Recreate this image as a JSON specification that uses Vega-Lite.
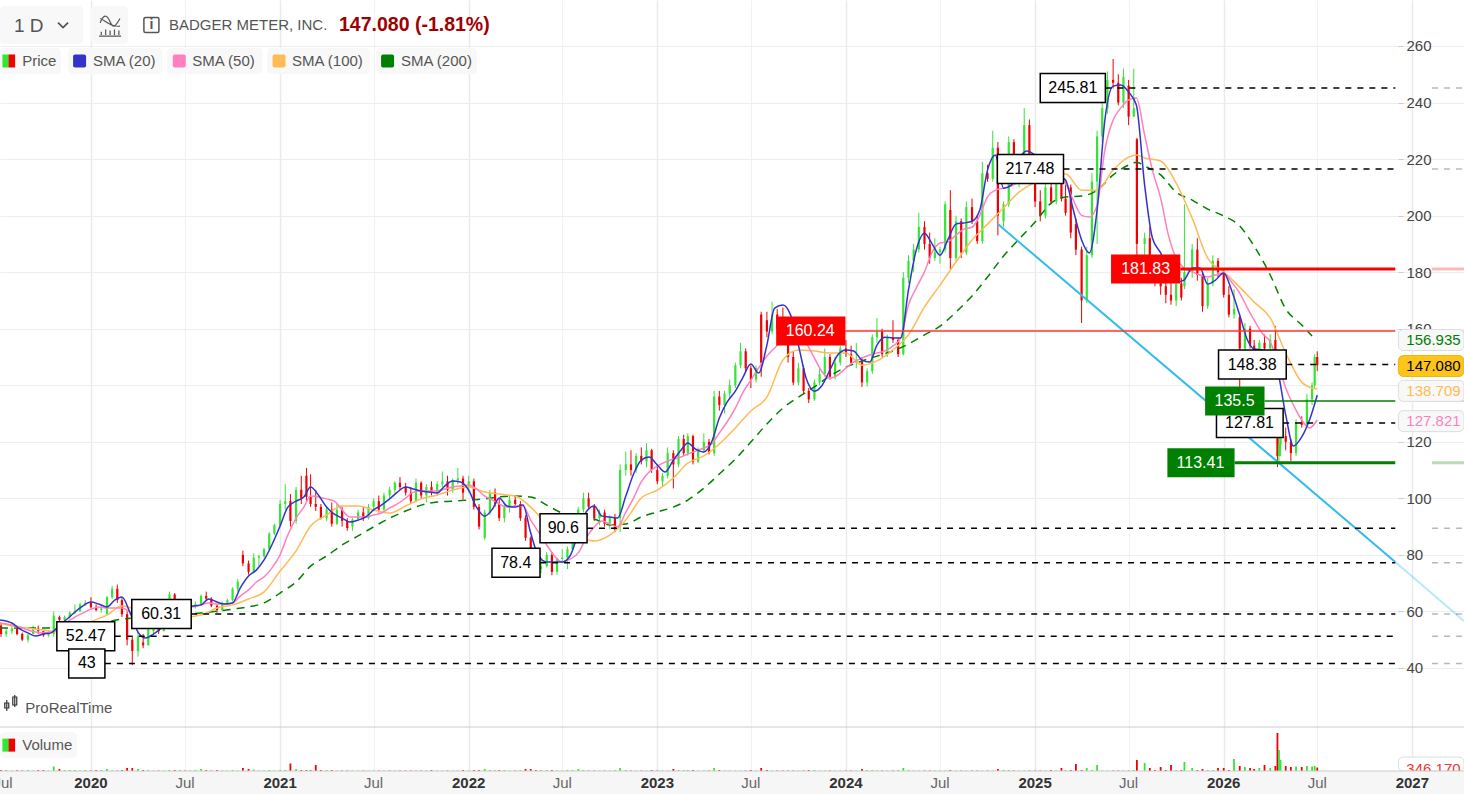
{
"$schema":"https://vega.github.io/schema/vega-lite/v6.json",
"width":1464,"height":794,"padding":0,"autosize":{"type":"none"},"background":"white",
"config":{"font":"Liberation Sans","view":{"stroke":null}},
"datasets":{
"candles":[
{"date":"2019-07-11","o":55,"h":56,"l":51,"c":52,"v":100},
{"date":"2019-07-21","o":52,"h":54,"l":51,"c":53,"v":100},
{"date":"2019-08-01","o":53,"h":55,"l":52,"c":54,"v":50},
{"date":"2019-08-11","o":54,"h":54,"l":51.5,"c":52,"v":80},
{"date":"2019-08-21","o":52,"h":52.5,"l":49.5,"c":50,"v":50},
{"date":"2019-09-01","o":50,"h":52,"l":49,"c":51.5,"v":100},
{"date":"2019-09-11","o":52,"h":55,"l":52,"c":54.5,"v":50},
{"date":"2019-09-21","o":54,"h":55,"l":52,"c":53,"v":100},
{"date":"2019-10-01","o":53,"h":53,"l":51,"c":51.5,"v":100},
{"date":"2019-10-11","o":51.5,"h":53,"l":51,"c":52.5,"v":50},
{"date":"2019-10-21","o":52,"h":60,"l":51,"c":58.5,"v":450},
{"date":"2019-11-01","o":58,"h":58.5,"l":56.5,"c":57,"v":200},
{"date":"2019-11-11","o":57,"h":58.5,"l":56.5,"c":58,"v":100},
{"date":"2019-11-21","o":58,"h":60,"l":57.5,"c":59.5,"v":100},
{"date":"2019-12-01","o":59.5,"h":62.5,"l":59,"c":60,"v":100},
{"date":"2019-12-11","o":60,"h":63,"l":60,"c":62.5,"v":50},
{"date":"2019-12-21","o":62.5,"h":64,"l":62,"c":63,"v":100},
{"date":"2020-01-01","o":63,"h":65,"l":61,"c":61.5,"v":50},
{"date":"2020-01-11","o":61.5,"h":62.5,"l":60,"c":60.5,"v":100},
{"date":"2020-01-21","o":60.5,"h":62,"l":59.5,"c":61,"v":100},
{"date":"2020-02-01","o":59,"h":65.5,"l":58.7,"c":65,"v":200},
{"date":"2020-02-11","o":65,"h":69,"l":64.5,"c":68,"v":50},
{"date":"2020-02-21","o":68,"h":69.5,"l":63,"c":64,"v":50},
{"date":"2020-03-01","o":64,"h":65,"l":58,"c":59,"v":100},
{"date":"2020-03-11","o":59,"h":60,"l":48,"c":50,"v":300},
{"date":"2020-03-21","o":50,"h":51,"l":41,"c":46,"v":300},
{"date":"2020-04-01","o":46,"h":53,"l":44,"c":51,"v":200},
{"date":"2020-04-11","o":49,"h":52,"l":47,"c":48,"v":100},
{"date":"2020-04-21","o":48,"h":55,"l":48,"c":54,"v":100},
{"date":"2020-05-01","o":53,"h":56,"l":52,"c":55,"v":50},
{"date":"2020-05-11","o":55,"h":58,"l":52,"c":53,"v":50},
{"date":"2020-05-21","o":53,"h":60,"l":53,"c":59,"v":50},
{"date":"2020-06-01","o":59,"h":67,"l":59,"c":66,"v":100},
{"date":"2020-06-11","o":66,"h":66.5,"l":62,"c":63,"v":100},
{"date":"2020-06-21","o":63,"h":64.5,"l":61.5,"c":63.5,"v":100},
{"date":"2020-07-01","o":63,"h":64,"l":60.5,"c":61,"v":50},
{"date":"2020-07-11","o":61,"h":63,"l":60.5,"c":62,"v":50},
{"date":"2020-07-21","o":62,"h":63.5,"l":61,"c":62.5,"v":100},
{"date":"2020-08-01","o":62.5,"h":66,"l":62,"c":65.5,"v":200},
{"date":"2020-08-11","o":65.5,"h":67,"l":64,"c":64.5,"v":100},
{"date":"2020-08-21","o":64.5,"h":65,"l":61.5,"c":62,"v":50},
{"date":"2020-09-01","o":62,"h":62.5,"l":59.5,"c":60.5,"v":100},
{"date":"2020-09-11","o":60.5,"h":63.5,"l":60,"c":63,"v":50},
{"date":"2020-09-21","o":63,"h":64.5,"l":62.5,"c":64,"v":50},
{"date":"2020-10-01","o":64,"h":68.5,"l":63.5,"c":68,"v":100},
{"date":"2020-10-11","o":68,"h":71.5,"l":67,"c":70.5,"v":50},
{"date":"2020-10-21","o":80,"h":81.5,"l":76,"c":77,"v":300},
{"date":"2020-11-01","o":77,"h":78,"l":73,"c":74,"v":200},
{"date":"2020-11-11","o":74,"h":80.5,"l":73.5,"c":79,"v":150},
{"date":"2020-11-21","o":79,"h":80,"l":76,"c":79.5,"v":50},
{"date":"2020-12-01","o":79.5,"h":82.5,"l":79,"c":82,"v":50},
{"date":"2020-12-11","o":82,"h":88,"l":81.5,"c":87.5,"v":100},
{"date":"2020-12-21","o":87.5,"h":91,"l":87,"c":90.5,"v":50},
{"date":"2021-01-01","o":90.5,"h":99.5,"l":90,"c":98,"v":100},
{"date":"2021-01-11","o":98,"h":105,"l":96,"c":99,"v":100},
{"date":"2021-01-21","o":99,"h":101.5,"l":90,"c":92,"v":750},
{"date":"2021-02-01","o":92,"h":104,"l":91,"c":103,"v":200},
{"date":"2021-02-11","o":103,"h":108,"l":98,"c":100,"v":100},
{"date":"2021-02-21","o":108,"h":110.7,"l":99,"c":100.5,"v":100},
{"date":"2021-03-01","o":100.5,"h":108.5,"l":97,"c":98,"v":100},
{"date":"2021-03-11","o":98,"h":103,"l":95.5,"c":97,"v":600},
{"date":"2021-03-21","o":97,"h":98,"l":92.5,"c":93,"v":100},
{"date":"2021-04-01","o":93,"h":97,"l":92,"c":96,"v":100},
{"date":"2021-04-11","o":96,"h":98.5,"l":90,"c":91,"v":100},
{"date":"2021-04-21","o":91,"h":98,"l":90.5,"c":96,"v":50},
{"date":"2021-05-01","o":96,"h":97,"l":90,"c":92,"v":50},
{"date":"2021-05-11","o":92,"h":93,"l":88.5,"c":89.5,"v":50},
{"date":"2021-05-21","o":90,"h":93,"l":88.5,"c":92.5,"v":50},
{"date":"2021-06-01","o":92.5,"h":96,"l":92,"c":95,"v":50},
{"date":"2021-06-11","o":95,"h":97,"l":92,"c":93,"v":50},
{"date":"2021-06-21","o":93,"h":98,"l":92.5,"c":97,"v":50},
{"date":"2021-07-01","o":97,"h":100,"l":96,"c":99,"v":50},
{"date":"2021-07-11","o":99,"h":101,"l":95,"c":96,"v":50},
{"date":"2021-07-21","o":96,"h":102,"l":95.5,"c":101,"v":50},
{"date":"2021-08-01","o":101,"h":104,"l":100,"c":103,"v":100},
{"date":"2021-08-11","o":103,"h":106,"l":102,"c":105.5,"v":50},
{"date":"2021-08-21","o":105.5,"h":107.5,"l":103,"c":104,"v":50},
{"date":"2021-09-01","o":104,"h":105.5,"l":101,"c":102,"v":50},
{"date":"2021-09-11","o":102,"h":104,"l":98,"c":99,"v":50},
{"date":"2021-09-21","o":99,"h":107,"l":98.5,"c":105.5,"v":50},
{"date":"2021-10-01","o":105.5,"h":106,"l":100,"c":101,"v":50},
{"date":"2021-10-11","o":101,"h":105,"l":98.5,"c":104,"v":50},
{"date":"2021-10-21","o":104,"h":106,"l":101,"c":102,"v":100},
{"date":"2021-11-01","o":102,"h":106,"l":101,"c":105,"v":50},
{"date":"2021-11-11","o":105,"h":109.5,"l":104,"c":106,"v":50},
{"date":"2021-11-21","o":106,"h":108,"l":101,"c":103,"v":50},
{"date":"2021-12-01","o":103,"h":107,"l":102,"c":106.5,"v":50},
{"date":"2021-12-11","o":106.5,"h":110.7,"l":105,"c":107,"v":50},
{"date":"2021-12-21","o":107,"h":108,"l":99.5,"c":102,"v":100},
{"date":"2022-01-01","o":104,"h":108,"l":102,"c":106,"v":50},
{"date":"2022-01-11","o":106,"h":107,"l":96,"c":97,"v":100},
{"date":"2022-01-21","o":97,"h":98,"l":89,"c":90,"v":100},
{"date":"2022-02-01","o":86,"h":96,"l":85.3,"c":95,"v":200},
{"date":"2022-02-11","o":95,"h":103,"l":94,"c":102,"v":100},
{"date":"2022-02-21","o":102,"h":103.5,"l":97,"c":98,"v":50},
{"date":"2022-03-01","o":98,"h":100,"l":92,"c":93,"v":100},
{"date":"2022-03-11","o":93,"h":98,"l":91.5,"c":97,"v":100},
{"date":"2022-03-21","o":97,"h":101,"l":95,"c":99.5,"v":50},
{"date":"2022-04-01","o":99.5,"h":101,"l":97,"c":98,"v":50},
{"date":"2022-04-11","o":98,"h":99,"l":92,"c":93,"v":50},
{"date":"2022-04-21","o":93,"h":94,"l":85,"c":86,"v":200},
{"date":"2022-05-01","o":86,"h":86.5,"l":78,"c":79,"v":200},
{"date":"2022-05-11","o":79,"h":81,"l":74,"c":75,"v":100},
{"date":"2022-05-21","o":75,"h":79,"l":73.5,"c":76,"v":100},
{"date":"2022-06-01","o":76,"h":81,"l":75.5,"c":80,"v":100},
{"date":"2022-06-11","o":80,"h":81,"l":72.8,"c":74,"v":100},
{"date":"2022-06-21","o":74,"h":79,"l":73,"c":78.5,"v":50},
{"date":"2022-07-01","o":78.5,"h":82,"l":77,"c":79,"v":50},
{"date":"2022-07-11","o":79,"h":83,"l":75,"c":82,"v":100},
{"date":"2022-07-21","o":82,"h":89,"l":81.5,"c":88,"v":100},
{"date":"2022-08-01","o":88,"h":97,"l":87.5,"c":96,"v":200},
{"date":"2022-08-11","o":96,"h":102,"l":95,"c":100,"v":100},
{"date":"2022-08-21","o":100,"h":102,"l":96,"c":97,"v":50},
{"date":"2022-09-01","o":97,"h":98,"l":92,"c":93,"v":50},
{"date":"2022-09-11","o":93,"h":96,"l":90.5,"c":95,"v":50},
{"date":"2022-09-21","o":95,"h":96,"l":90,"c":91,"v":50},
{"date":"2022-10-01","o":91,"h":94,"l":89,"c":93,"v":50},
{"date":"2022-10-11","o":93,"h":94.5,"l":88,"c":89,"v":50},
{"date":"2022-10-21","o":93,"h":112,"l":88,"c":110,"v":300},
{"date":"2022-11-01","o":110,"h":116.5,"l":108,"c":112,"v":100},
{"date":"2022-11-11","o":112,"h":117,"l":108,"c":110,"v":50},
{"date":"2022-11-21","o":110,"h":116,"l":109,"c":115,"v":50},
{"date":"2022-12-01","o":115,"h":118,"l":112,"c":113,"v":50},
{"date":"2022-12-11","o":113,"h":119.5,"l":111,"c":117,"v":50},
{"date":"2022-12-21","o":117,"h":117.5,"l":109,"c":110,"v":100},
{"date":"2023-01-01","o":110,"h":112,"l":105,"c":106,"v":50},
{"date":"2023-01-11","o":106,"h":109,"l":104,"c":108,"v":50},
{"date":"2023-01-21","o":108,"h":118,"l":107,"c":116,"v":50},
{"date":"2023-02-01","o":116,"h":117,"l":103.5,"c":112,"v":200},
{"date":"2023-02-11","o":112,"h":122,"l":111,"c":121,"v":100},
{"date":"2023-02-21","o":121,"h":122.5,"l":115,"c":116,"v":50},
{"date":"2023-03-01","o":116,"h":123,"l":115,"c":122,"v":100},
{"date":"2023-03-11","o":122,"h":122.5,"l":112,"c":113,"v":100},
{"date":"2023-03-21","o":113,"h":118,"l":112.5,"c":117,"v":50},
{"date":"2023-04-01","o":117,"h":123,"l":116,"c":120,"v":50},
{"date":"2023-04-11","o":120,"h":121,"l":115.5,"c":116,"v":50},
{"date":"2023-04-21","o":116,"h":138,"l":115,"c":136,"v":300},
{"date":"2023-05-01","o":136,"h":138,"l":131,"c":133,"v":100},
{"date":"2023-05-11","o":133,"h":138,"l":130,"c":137,"v":50},
{"date":"2023-05-21","o":137,"h":142,"l":135,"c":140,"v":50},
{"date":"2023-06-01","o":140,"h":148,"l":139,"c":147,"v":50},
{"date":"2023-06-11","o":147,"h":155,"l":146,"c":152,"v":50},
{"date":"2023-06-21","o":152,"h":153,"l":145,"c":146,"v":50},
{"date":"2023-07-01","o":146,"h":147,"l":139,"c":142,"v":100},
{"date":"2023-07-11","o":142,"h":147,"l":141,"c":146,"v":50},
{"date":"2023-07-21","o":165,"h":166,"l":143,"c":148,"v":300},
{"date":"2023-08-01","o":163,"h":166,"l":157,"c":159,"v":100},
{"date":"2023-08-11","o":159,"h":169.5,"l":158,"c":165,"v":50},
{"date":"2023-08-21","o":165,"h":167,"l":158,"c":160,"v":50},
{"date":"2023-09-01","o":160,"h":167.5,"l":155,"c":157,"v":50},
{"date":"2023-09-11","o":157,"h":159,"l":148,"c":150,"v":50},
{"date":"2023-09-21","o":150,"h":152,"l":140,"c":141,"v":50},
{"date":"2023-10-01","o":141,"h":148,"l":140,"c":146,"v":50},
{"date":"2023-10-11","o":146,"h":147,"l":137,"c":138,"v":50},
{"date":"2023-10-21","o":138,"h":139,"l":133.7,"c":135,"v":100},
{"date":"2023-11-01","o":135,"h":142,"l":134.5,"c":141,"v":100},
{"date":"2023-11-11","o":141,"h":146,"l":140,"c":144,"v":50},
{"date":"2023-11-21","o":144,"h":153,"l":143,"c":150,"v":50},
{"date":"2023-12-01","o":150,"h":151,"l":142,"c":143,"v":50},
{"date":"2023-12-11","o":143,"h":150,"l":142,"c":148,"v":50},
{"date":"2023-12-21","o":148,"h":154,"l":147,"c":153,"v":50},
{"date":"2024-01-01","o":153,"h":156,"l":150,"c":151,"v":50},
{"date":"2024-01-11","o":151,"h":154,"l":147,"c":148,"v":50},
{"date":"2024-01-21","o":148,"h":155,"l":146,"c":149,"v":50},
{"date":"2024-02-01","o":149,"h":150,"l":139.4,"c":141,"v":200},
{"date":"2024-02-11","o":141,"h":146,"l":139.5,"c":145,"v":100},
{"date":"2024-02-21","o":145,"h":158,"l":144,"c":157,"v":100},
{"date":"2024-03-01","o":157,"h":163.8,"l":155,"c":159,"v":50},
{"date":"2024-03-11","o":159,"h":160,"l":150,"c":151,"v":50},
{"date":"2024-03-21","o":151,"h":158,"l":150,"c":157,"v":50},
{"date":"2024-04-01","o":157,"h":163,"l":155,"c":156,"v":50},
{"date":"2024-04-11","o":156,"h":157,"l":150,"c":151,"v":50},
{"date":"2024-04-21","o":151,"h":180,"l":150.5,"c":178,"v":300},
{"date":"2024-05-01","o":178,"h":186,"l":176,"c":184,"v":100},
{"date":"2024-05-11","o":184,"h":190,"l":180,"c":188,"v":50},
{"date":"2024-05-21","o":188,"h":201,"l":187,"c":196,"v":50},
{"date":"2024-06-01","o":196,"h":198,"l":188,"c":190,"v":50},
{"date":"2024-06-11","o":190,"h":194,"l":183,"c":185,"v":50},
{"date":"2024-06-21","o":185,"h":192,"l":184,"c":187,"v":50},
{"date":"2024-07-01","o":187,"h":189,"l":183,"c":188,"v":50},
{"date":"2024-07-11","o":188,"h":205,"l":187,"c":204,"v":50},
{"date":"2024-07-21","o":202,"h":209,"l":181,"c":185,"v":100},
{"date":"2024-08-01","o":185,"h":200,"l":184,"c":198,"v":50},
{"date":"2024-08-11","o":198,"h":199,"l":185,"c":187,"v":50},
{"date":"2024-08-21","o":187,"h":205,"l":186,"c":203,"v":50},
{"date":"2024-09-01","o":203,"h":206,"l":197,"c":198,"v":50},
{"date":"2024-09-11","o":198,"h":200,"l":190,"c":191,"v":50},
{"date":"2024-09-21","o":191,"h":219,"l":190,"c":215,"v":50},
{"date":"2024-10-01","o":215,"h":218,"l":212,"c":213,"v":50},
{"date":"2024-10-11","o":213,"h":230,"l":212,"c":224,"v":50},
{"date":"2024-10-21","o":224,"h":226,"l":193,"c":200,"v":200},
{"date":"2024-11-01","o":198,"h":205,"l":196,"c":204,"v":100},
{"date":"2024-11-11","o":204,"h":228,"l":203,"c":226,"v":100},
{"date":"2024-11-21","o":226,"h":227,"l":212,"c":214,"v":50},
{"date":"2024-12-01","o":214,"h":220,"l":210,"c":219,"v":50},
{"date":"2024-12-11","o":219,"h":238,"l":218,"c":232,"v":50},
{"date":"2024-12-21","o":232,"h":234,"l":215,"c":216,"v":50},
{"date":"2025-01-01","o":216,"h":218,"l":203,"c":205,"v":50},
{"date":"2025-01-11","o":205,"h":209,"l":198,"c":200,"v":50},
{"date":"2025-01-21","o":200,"h":212,"l":199,"c":210,"v":50},
{"date":"2025-02-01","o":210,"h":212,"l":204,"c":205,"v":100},
{"date":"2025-02-11","o":205,"h":214,"l":204,"c":212,"v":50},
{"date":"2025-02-21","o":212,"h":214,"l":205,"c":206,"v":300},
{"date":"2025-03-01","o":206,"h":211,"l":200,"c":201,"v":50},
{"date":"2025-03-11","o":210,"h":211,"l":192,"c":194,"v":100},
{"date":"2025-03-21","o":197,"h":199,"l":186,"c":188,"v":700},
{"date":"2025-04-01","o":188,"h":189,"l":162,"c":170,"v":100},
{"date":"2025-04-11","o":170,"h":189,"l":169,"c":186,"v":300},
{"date":"2025-04-21","o":186,"h":215,"l":185,"c":212,"v":100},
{"date":"2025-05-01","o":212,"h":230,"l":190,"c":228,"v":600},
{"date":"2025-05-11","o":228,"h":240,"l":226,"c":238,"v":50},
{"date":"2025-05-21","o":238,"h":251,"l":236,"c":248,"v":50},
{"date":"2025-06-01","o":248,"h":255.4,"l":245,"c":247,"v":50},
{"date":"2025-06-11","o":247,"h":250,"l":239,"c":240,"v":50},
{"date":"2025-06-21","o":240,"h":252,"l":238,"c":249,"v":50},
{"date":"2025-07-01","o":246,"h":248,"l":232,"c":235,"v":50},
{"date":"2025-07-11","o":235,"h":252,"l":235,"c":238,"v":100},
{"date":"2025-07-17","o":227,"h":227.5,"l":185,"c":190,"v":1100},
{"date":"2025-08-01","o":190,"h":194,"l":186,"c":192,"v":800},
{"date":"2025-08-11","o":192,"h":196,"l":177,"c":180,"v":300},
{"date":"2025-08-21","o":180,"h":186,"l":175,"c":178,"v":100},
{"date":"2025-09-01","o":178,"h":183,"l":172,"c":175,"v":400},
{"date":"2025-09-11","o":175,"h":181,"l":169,"c":172,"v":100},
{"date":"2025-09-21","o":172,"h":178,"l":168.5,"c":170,"v":600},
{"date":"2025-10-01","o":170,"h":178,"l":168,"c":176,"v":100},
{"date":"2025-10-11","o":176,"h":178,"l":170,"c":171,"v":100},
{"date":"2025-10-17","o":175,"h":204,"l":174,"c":180,"v":900},
{"date":"2025-11-01","o":180,"h":190,"l":178,"c":188,"v":300},
{"date":"2025-11-11","o":188,"h":192,"l":177,"c":179,"v":100},
{"date":"2025-11-21","o":179,"h":180,"l":166,"c":168,"v":200},
{"date":"2025-12-01","o":168,"h":178,"l":167,"c":176,"v":100},
{"date":"2025-12-11","o":176,"h":186,"l":175,"c":184,"v":100},
{"date":"2025-12-21","o":184,"h":185,"l":178,"c":180,"v":300},
{"date":"2026-01-01","o":180,"h":181,"l":171,"c":172,"v":300},
{"date":"2026-01-11","o":172,"h":175,"l":164,"c":165,"v":100},
{"date":"2026-01-21","o":165,"h":174,"l":163.5,"c":167,"v":1200},
{"date":"2026-02-01","o":164,"h":165,"l":139,"c":153,"v":500},
{"date":"2026-02-11","o":153,"h":162,"l":152.5,"c":160,"v":400},
{"date":"2026-02-21","o":160,"h":161,"l":153,"c":154,"v":300},
{"date":"2026-03-01","o":154,"h":156,"l":151,"c":152,"v":200},
{"date":"2026-03-11","o":152,"h":156,"l":151,"c":155,"v":300},
{"date":"2026-03-21","o":155,"h":158,"l":151,"c":153,"v":600},
{"date":"2026-04-01","o":153,"h":158,"l":152,"c":156,"v":300},
{"date":"2026-04-11","o":156,"h":161,"l":150,"c":151,"v":500},
{"date":"2026-04-15","o":125,"h":126,"l":111,"c":115,"v":3800},
{"date":"2026-04-18","o":115,"h":122,"l":112.5,"c":119,"v":2100},
{"date":"2026-04-21","o":119,"h":124,"l":115,"c":122,"v":1100},
{"date":"2026-05-01","o":122,"h":125,"l":117,"c":120,"v":500},
{"date":"2026-05-11","o":120,"h":121,"l":113,"c":116,"v":400},
{"date":"2026-05-21","o":116,"h":128,"l":115,"c":127,"v":450},
{"date":"2026-06-01","o":127,"h":129,"l":125,"c":126,"v":400},
{"date":"2026-06-11","o":126,"h":137,"l":125,"c":135,"v":500},
{"date":"2026-06-21","o":135,"h":141,"l":133,"c":140,"v":450},
{"date":"2026-06-26","o":140,"h":151,"l":139,"c":150,"v":500},
{"date":"2026-07-01","o":150,"h":152,"l":145,"c":147.08,"v":346}
],
"smaFast":[
{"date":"2019-07-09","s20":57,"s50":55.9},{"date":"2019-08-01","s20":55.9,"s50":55.2},{"date":"2019-08-16","s20":53.8,"s50":54.5},{"date":"2019-09-01","s20":52.4,"s50":53.4},{"date":"2019-09-16","s20":51.3,"s50":52.7},{"date":"2019-10-01","s20":52,"s50":52.4},{"date":"2019-10-16","s20":52.4,"s50":52.7},{"date":"2019-11-01","s20":55.2,"s50":54.1},{"date":"2019-11-16","s20":57.3,"s50":56.3},{"date":"2019-12-01","s20":59.8,"s50":58},{"date":"2019-12-16","s20":61.9,"s50":59.4},
{"date":"2020-01-01","s20":63.3,"s50":60.8},{"date":"2020-01-16","s20":62.6,"s50":61.6},{"date":"2020-02-01","s20":61.6,"s50":61.2},{"date":"2020-02-16","s20":64,"s50":61.2},{"date":"2020-03-01","s20":65.1,"s50":61.2},{"date":"2020-03-16","s20":59.8,"s50":59.8},{"date":"2020-04-01","s20":52.7,"s50":57.7},{"date":"2020-04-16","s20":50.6,"s50":56.3},{"date":"2020-05-01","s20":52,"s50":56.6},{"date":"2020-05-16","s20":54.1,"s50":57.7},{"date":"2020-06-01","s20":58.7,"s50":59.4},{"date":"2020-06-16","s20":60.8,"s50":60.5},{"date":"2020-07-01","s20":61.6,"s50":61.2},{"date":"2020-07-16","s20":61.9,"s50":61.6},{"date":"2020-08-01","s20":62.3,"s50":62.3},{"date":"2020-08-16","s20":64.4,"s50":63},{"date":"2020-09-01","s20":63.3,"s50":62.6},{"date":"2020-09-16","s20":62.6,"s50":62.6},{"date":"2020-10-01","s20":63,"s50":63},{"date":"2020-10-16","s20":68.3,"s50":65.4},{"date":"2020-11-01","s20":72.5,"s50":67.6},{"date":"2020-11-16","s20":74.6,"s50":70.4},{"date":"2020-12-01","s20":78.2,"s50":72.2},{"date":"2020-12-16","s20":83.5,"s50":75.3},
{"date":"2021-01-01","s20":90.2,"s50":80},{"date":"2021-01-16","s20":96.9,"s50":87},{"date":"2021-02-01","s20":99,"s50":93},{"date":"2021-02-16","s20":100.5,"s50":96.9},{"date":"2021-03-01","s20":104,"s50":100.8},{"date":"2021-03-16","s20":101.2,"s50":100.5},{"date":"2021-04-01","s20":96.9,"s50":99.8},{"date":"2021-04-16","s20":94.4,"s50":99},{"date":"2021-05-01","s20":93,"s50":95.9},{"date":"2021-05-16","s20":91.6,"s50":93.4},{"date":"2021-06-01","s20":92.3,"s50":93.4},{"date":"2021-06-16","s20":93.4,"s50":93.4},{"date":"2021-07-01","s20":95.9,"s50":94.1},{"date":"2021-07-16","s20":97.6,"s50":94.8},{"date":"2021-08-01","s20":99.8,"s50":96.6},{"date":"2021-08-16","s20":102.2,"s50":98},{"date":"2021-09-01","s20":104,"s50":100.1},{"date":"2021-09-16","s20":103.3,"s50":102.2},{"date":"2021-10-01","s20":102.6,"s50":102.6},{"date":"2021-10-16","s20":102.2,"s50":102.6},{"date":"2021-11-01","s20":101.9,"s50":102.6},{"date":"2021-11-16","s20":104.4,"s50":103.3},{"date":"2021-12-01","s20":106.1,"s50":104},{"date":"2021-12-16","s20":105.8,"s50":104.4},
{"date":"2022-01-01","s20":102.9,"s50":104.7},{"date":"2022-01-16","s20":96.9,"s50":103.3},{"date":"2022-02-01","s20":93.7,"s50":100.8},{"date":"2022-02-16","s20":96.2,"s50":99.4},{"date":"2022-03-01","s20":100.1,"s50":98},{"date":"2022-03-16","s20":97.3,"s50":96.9},{"date":"2022-04-01","s20":96.9,"s50":97.3},{"date":"2022-04-16","s20":97.6,"s50":97.3},{"date":"2022-05-01","s20":87.7,"s50":92.3},{"date":"2022-05-16","s20":79.6,"s50":88.1},{"date":"2022-06-01","s20":77.5,"s50":83.5},{"date":"2022-06-16","s20":77.5,"s50":79.6},{"date":"2022-07-01","s20":77.5,"s50":77.5},{"date":"2022-07-16","s20":79.6,"s50":78.5},{"date":"2022-08-01","s20":87.7,"s50":80.7},{"date":"2022-08-16","s20":95.1,"s50":85.9},{"date":"2022-09-01","s20":97.3,"s50":89.9},{"date":"2022-09-16","s20":93.7,"s50":92},{"date":"2022-10-01","s20":93.4,"s50":90.9},{"date":"2022-10-16","s20":93,"s50":89.9},{"date":"2022-11-01","s20":100.8,"s50":95.1},{"date":"2022-11-16","s20":108.6,"s50":100.1},{"date":"2022-12-01","s20":113.5,"s50":105.8},{"date":"2022-12-16","s20":114.6,"s50":109.3},
{"date":"2023-01-01","s20":111.8,"s50":111.4},{"date":"2023-01-16","s20":109.3,"s50":112.8},{"date":"2023-02-01","s20":113.5,"s50":113.9},{"date":"2023-02-16","s20":117.1,"s50":114.6},{"date":"2023-03-01","s20":119.6,"s50":115.7},{"date":"2023-03-16","s20":117.4,"s50":116.7},{"date":"2023-04-01","s20":116.4,"s50":117.8},{"date":"2023-04-16","s20":119.9,"s50":119.2},{"date":"2023-05-01","s20":128.4,"s50":123.1},{"date":"2023-05-16","s20":134,"s50":127},{"date":"2023-06-01","s20":137.9,"s50":131.9},{"date":"2023-06-16","s20":142.9,"s50":137.6},{"date":"2023-07-01","s20":147.5,"s50":141.8},{"date":"2023-07-16","s20":144.3,"s50":146.1},{"date":"2023-08-01","s20":154.2,"s50":150.3},{"date":"2023-08-16","s20":167.3,"s50":153.2},{"date":"2023-09-01","s20":168.4,"s50":156},{"date":"2023-09-16","s20":164.8,"s50":159.5},{"date":"2023-10-01","s20":154.2,"s50":157.4},{"date":"2023-10-16","s20":142.5,"s50":154.9},{"date":"2023-11-01","s20":137.9,"s50":149.6},{"date":"2023-11-16","s20":140,"s50":144.7},{"date":"2023-12-01","s20":145.4,"s50":142.5},{"date":"2023-12-16","s20":150.7,"s50":143.6},
{"date":"2024-01-01","s20":152.5,"s50":146.1},{"date":"2024-01-16","s20":152.1,"s50":148.2},{"date":"2024-02-01","s20":148.9,"s50":149.6},{"date":"2024-02-16","s20":148.2,"s50":150.7},{"date":"2024-03-01","s20":154.2,"s50":151.4},{"date":"2024-03-16","s20":157,"s50":152.1},{"date":"2024-04-01","s20":156.7,"s50":153.9},{"date":"2024-04-16","s20":156.7,"s50":156.7},{"date":"2024-05-01","s20":173.7,"s50":168.4},{"date":"2024-05-16","s20":187.8,"s50":174.4},{"date":"2024-06-01","s20":193.8,"s50":180.1},{"date":"2024-06-16","s20":189.9,"s50":187.1},{"date":"2024-07-01","s20":186,"s50":190.3},{"date":"2024-07-16","s20":191.4,"s50":190.7},{"date":"2024-08-01","s20":197,"s50":193.1},{"date":"2024-08-16","s20":197.4,"s50":195.2},{"date":"2024-09-01","s20":198,"s50":195.9},{"date":"2024-09-16","s20":202,"s50":200.1},{"date":"2024-10-01","s20":216.1,"s50":206.6},{"date":"2024-10-16","s20":221.4,"s50":209},{"date":"2024-11-01","s20":209.7,"s50":209.7},{"date":"2024-11-16","s20":210.8,"s50":210.5},{"date":"2024-12-01","s20":219.7,"s50":211.9},{"date":"2024-12-16","s20":222.9,"s50":213.3},
{"date":"2025-01-01","s20":221.4,"s50":214.4},{"date":"2025-01-16","s20":218.6,"s50":215.5},{"date":"2025-02-01","s20":216.1,"s50":215.5},{"date":"2025-02-16","s20":214,"s50":214.8},{"date":"2025-03-01","s20":212.6,"s50":211.5},{"date":"2025-03-16","s20":202,"s50":205.5},{"date":"2025-04-01","s20":191.4,"s50":200.1},{"date":"2025-04-16","s20":186.8,"s50":199.5},{"date":"2025-05-01","s20":202,"s50":203.7},{"date":"2025-05-16","s20":233.8,"s50":223.2},{"date":"2025-06-01","s20":245.8,"s50":233.8},{"date":"2025-06-16","s20":246.2,"s50":238.1},{"date":"2025-07-01","s20":243.7,"s50":240.9},{"date":"2025-07-16","s20":239.1,"s50":241.6},{"date":"2025-08-01","s20":210.8,"s50":228.5},{"date":"2025-08-16","s20":192.1,"s50":216.1},{"date":"2025-09-01","s20":186.8,"s50":206.2},{"date":"2025-09-16","s20":180.8,"s50":193.1},{"date":"2025-10-01","s20":176.5,"s50":185},{"date":"2025-10-16","s20":177.2,"s50":181.5},{"date":"2025-11-01","s20":181.5,"s50":180.1},{"date":"2025-11-16","s20":181.5,"s50":179},{"date":"2025-12-01","s20":175.8,"s50":178.3},{"date":"2025-12-16","s20":177.2,"s50":179},
{"date":"2026-01-01","s20":179.7,"s50":179.7},{"date":"2026-01-16","s20":173.7,"s50":176.5},{"date":"2026-02-01","s20":164.8,"s50":172.6},{"date":"2026-02-16","s20":156,"s50":167.3},{"date":"2026-03-01","s20":152.8,"s50":163},{"date":"2026-03-16","s20":152.5,"s50":158.5},{"date":"2026-04-01","s20":151.7,"s50":155.3},{"date":"2026-04-16","s20":144.7,"s50":148.2},{"date":"2026-05-01","s20":129.5,"s50":139},{"date":"2026-05-16","s20":118.5,"s50":133},{"date":"2026-06-01","s20":121.7,"s50":127.7},{"date":"2026-06-16","s20":127.7,"s50":124.9},{"date":"2026-07-01","s20":136.5,"s50":127.7}
],
"smaSlow":[
{"date":"2019-07-09","s100":55.9,"s200":54.1},{"date":"2019-08-01","s100":54.8,"s200":54.1},{"date":"2019-09-01","s100":54.1,"s200":54.1},{"date":"2019-10-01","s100":53.4,"s200":54.1},{"date":"2019-11-01","s100":52.7,"s200":54.1},{"date":"2019-12-01","s100":52.7,"s200":54.1},
{"date":"2020-01-01","s100":56.3,"s200":55.2},{"date":"2020-02-01","s100":58.7,"s200":56.3},{"date":"2020-03-01","s100":61.9,"s200":57.3},{"date":"2020-04-01","s100":60.5,"s200":57.7},{"date":"2020-05-01","s100":59.4,"s200":58.4},{"date":"2020-06-01","s100":58.4,"s200":58.7},{"date":"2020-07-01","s100":58,"s200":59.1},{"date":"2020-08-01","s100":58.7,"s200":59.4},{"date":"2020-09-01","s100":61.2,"s200":60.1},{"date":"2020-10-01","s100":62.3,"s200":60.8},{"date":"2020-11-01","s100":64.4,"s200":61.6},{"date":"2020-12-01","s100":66.9,"s200":63},
{"date":"2021-01-01","s100":74.3,"s200":66.5},{"date":"2021-02-01","s100":81.4,"s200":70.4},{"date":"2021-03-01","s100":90.2,"s200":76},{"date":"2021-04-01","s100":94.1,"s200":79.6},{"date":"2021-05-01","s100":97.3,"s200":83.5},{"date":"2021-06-01","s100":97.3,"s200":86.7},{"date":"2021-07-01","s100":95.9,"s200":89.9},{"date":"2021-08-01","s100":94.8,"s200":93},{"date":"2021-09-01","s100":97.3,"s200":95.5},{"date":"2021-10-01","s100":99.8,"s200":97.6},{"date":"2021-11-01","s100":101.2,"s200":98.7},{"date":"2021-12-01","s100":102.9,"s200":99},
{"date":"2022-01-01","s100":104,"s200":99.4},{"date":"2022-02-01","s100":102.2,"s200":99.8},{"date":"2022-03-01","s100":101.5,"s200":100.5},{"date":"2022-04-01","s100":100.8,"s200":100.8},{"date":"2022-05-01","s100":96.9,"s200":100.5},{"date":"2022-06-01","s100":90.9,"s200":97.6},{"date":"2022-07-01","s100":87,"s200":94.8},{"date":"2022-08-01","s100":85.9,"s200":93.7},{"date":"2022-09-01","s100":84.9,"s200":92.7},{"date":"2022-10-01","s100":87,"s200":90.6},{"date":"2022-11-01","s100":92.3,"s200":90.9},{"date":"2022-12-01","s100":100.1,"s200":93.4},
{"date":"2023-01-01","s100":102.9,"s200":95.2},{"date":"2023-02-01","s100":107.2,"s200":96.9},{"date":"2023-03-01","s100":112.5,"s200":99.4},{"date":"2023-04-01","s100":115,"s200":103.6},{"date":"2023-05-01","s100":119.2,"s200":108.6},{"date":"2023-06-01","s100":124.9,"s200":113.9},{"date":"2023-07-01","s100":130.9,"s200":119.9},{"date":"2023-08-01","s100":135.8,"s200":126.3},{"date":"2023-09-01","s100":148.9,"s200":131.9},{"date":"2023-10-01","s100":152.5,"s200":135.8},{"date":"2023-11-01","s100":152.1,"s200":139.4},{"date":"2023-12-01","s100":151.4,"s200":143.3},
{"date":"2024-01-01","s100":151.4,"s200":146.4},{"date":"2024-02-01","s100":147.1,"s200":148.6},{"date":"2024-03-01","s100":148.6,"s200":150.3},{"date":"2024-04-01","s100":152.5,"s200":152.1},{"date":"2024-05-01","s100":157.8,"s200":154.6},{"date":"2024-06-01","s100":167.7,"s200":157.8},{"date":"2024-07-01","s100":175.4,"s200":160.9},{"date":"2024-08-01","s100":183.6,"s200":165.9},{"date":"2024-09-01","s100":191.4,"s200":171.6},{"date":"2024-10-01","s100":197,"s200":178.3},{"date":"2024-11-01","s100":202.7,"s200":185.7},{"date":"2024-12-01","s100":208.3,"s200":191.7},
{"date":"2025-01-01","s100":211.9,"s200":197.7},{"date":"2025-02-01","s100":214.7,"s200":204.4},{"date":"2025-03-01","s100":214.7,"s200":206.6},{"date":"2025-04-01","s100":209,"s200":206.9},{"date":"2025-05-01","s100":209,"s200":209},{"date":"2025-06-01","s100":216.1,"s200":214.4},{"date":"2025-07-01","s100":220.7,"s200":217.9},{"date":"2025-07-17","s100":221.4,"s200":218.9},{"date":"2025-08-01","s100":220.4,"s200":217.5},{"date":"2025-09-01","s100":219.3,"s200":214.4},{"date":"2025-10-01","s100":211.5,"s200":208.3},{"date":"2025-11-01","s100":199.1,"s200":205.5},{"date":"2025-12-01","s100":185,"s200":202.3},
{"date":"2026-01-01","s100":180.1,"s200":199.9},{"date":"2026-02-01","s100":174.7,"s200":196.3},{"date":"2026-03-01","s100":169.4,"s200":189.2},{"date":"2026-04-01","s100":163.8,"s200":179},{"date":"2026-05-01","s100":151.4,"s200":167},{"date":"2026-06-01","s100":141.1,"s200":161.3},{"date":"2026-06-21","s100":139,"s200":157.4},{"date":"2026-07-01","s100":138.7,"s200":null}
],
"levels":[
{"label":"245.81","kind":"level","price":245.1,"date":"2025-01-11","to":"2025-05-17","mid":"2025-03-15","end":"2026-11-29","ext":"2027-02-08","edge":"2027-04-11"},
{"label":"217.48","kind":"level","price":216.5,"date":"2024-10-20","to":"2025-02-25","mid":"2024-12-22","end":"2026-11-29","ext":"2027-02-08","edge":"2027-04-11"},
{"label":"181.83","kind":"major resistance","price":181.1,"date":"2025-05-28","to":"2025-10-09","mid":"2025-08-03","end":"2026-11-29","ext":"2027-02-08","edge":"2027-04-11"},
{"label":"160.24","kind":"resistance","price":159.2,"date":"2023-08-19","to":"2023-12-31","mid":"2023-10-24","end":"2026-11-29","ext":"2027-02-08","edge":"2027-04-11"},
{"label":"148.38","kind":"level","price":147.3,"date":"2025-12-22","to":"2026-05-02","mid":"2026-02-25","end":"2026-11-29","ext":"2027-02-08","edge":"2027-04-11"},
{"label":"127.81","kind":"level","price":126.6,"date":"2025-12-18","to":"2026-04-26","mid":"2026-02-20","end":"2026-11-29","ext":"2027-02-08","edge":"2027-04-11"},
{"label":"135.5","kind":"support","price":134.4,"date":"2025-11-26","to":"2026-03-21","mid":"2026-01-22","end":"2026-11-29","ext":"2027-02-08","edge":"2027-04-11"},
{"label":"113.41","kind":"major support","price":112.6,"date":"2025-09-14","to":"2026-01-22","mid":"2025-11-17","end":"2026-11-29","ext":"2027-02-08","edge":"2027-04-11"},
{"label":"90.6","kind":"level","price":89.4,"date":"2022-05-19","to":"2022-08-18","mid":"2022-07-03","end":"2026-11-29","ext":"2027-02-08","edge":"2027-04-11"},
{"label":"78.4","kind":"level","price":77.2,"date":"2022-02-15","to":"2022-05-19","mid":"2022-04-02","end":"2026-11-29","ext":"2027-02-08","edge":"2027-04-11"},
{"label":"60.31","kind":"level","price":59.1,"date":"2020-03-20","to":"2020-07-13","mid":"2020-05-16","end":"2026-11-29","ext":"2027-02-08","edge":"2027-04-11"},
{"label":"52.47","kind":"level","price":51.2,"date":"2019-10-27","to":"2020-02-16","mid":"2019-12-22","end":"2026-11-29","ext":"2027-02-08","edge":"2027-04-11"},
{"label":"43","kind":"level","price":41.6,"date":"2019-11-19","to":"2020-01-28","mid":"2019-12-24","end":"2026-11-29","ext":"2027-02-08","edge":"2027-04-11"}
],
"trend":[
{"date":"2024-10-21","to":"2026-11-29","price":197,"priceTo":77.5,"part":"chart"},
{"date":"2026-11-29","to":"2027-04-11","price":77.5,"priceTo":56.6,"part":"margin"}
],
"tags":[
{"date":"2026-12-05","to":"2027-04-11","price":156,"label":"156.935","name":"SMA (200)"},
{"date":"2026-12-05","to":"2027-04-11","price":146.8,"label":"147.080","name":"Price"},
{"date":"2026-12-05","to":"2027-04-11","price":138,"label":"138.709","name":"SMA (100)"},
{"date":"2026-12-05","to":"2027-04-11","price":127.3,"label":"127.821","name":"SMA (50)"}
],
"chipsTop":[
{"date":"2019-07-09","to":"2019-12-17","price":267.4},
{"date":"2020-01-01","to":"2020-03-13","price":267.4}
],
"chips":[
{"date":"2019-07-09","to":"2019-11-04","price":254.7},
{"date":"2019-11-18","to":"2020-05-18","price":254.7},
{"date":"2020-05-27","to":"2020-11-28","price":254.7},
{"date":"2020-12-07","to":"2021-06-24","price":254.7},
{"date":"2021-07-06","to":"2022-01-17","price":254.7},
{"date":"2019-07-09","to":"2019-12-05","price":12.7}
],
"swatches":[
{"date":"2019-12-10","price":254.7,"series":"SMA (20)"},
{"date":"2020-06-20","price":254.7,"series":"SMA (50)"},
{"date":"2020-12-30","price":254.7,"series":"SMA (100)"},
{"date":"2021-07-28","price":254.7,"series":"SMA (200)"}
],
"texts":[
{"date":"2019-08-21","price":254.7,"text":"Price"},
{"date":"2020-01-05","price":254.7,"text":"SMA (20)"},
{"date":"2020-07-15","price":254.7,"text":"SMA (50)"},
{"date":"2021-01-24","price":254.7,"text":"SMA (100)"},
{"date":"2021-08-23","price":254.7,"text":"SMA (200)"},
{"date":"2020-05-31","price":267.4,"text":"BADGER METER, INC."},
{"date":"2019-08-21","price":12.7,"text":"Volume"},
{"date":"2019-08-27","price":26,"text":"ProRealTime"}
]
},
"encoding":{
"x":{"field":"date","type":"temporal","scale":{"domain":[{"year":2019,"month":7,"date":9},{"year":2027,"month":4,"date":11}],"nice":false,"padding":0},
"axis":{"orient":"bottom","title":null,"domain":false,"ticks":false,"labels":false,"zindex":0,
"values":[{"year":2020,"month":1,"date":1},{"year":2020,"month":7,"date":1},{"year":2021,"month":1,"date":1},{"year":2021,"month":7,"date":1},{"year":2022,"month":1,"date":1},{"year":2022,"month":7,"date":1},{"year":2023,"month":1,"date":1},{"year":2023,"month":7,"date":1},{"year":2024,"month":1,"date":1},{"year":2024,"month":7,"date":1},{"year":2025,"month":1,"date":1},{"year":2025,"month":7,"date":1},{"year":2026,"month":1,"date":1},{"year":2026,"month":7,"date":1},{"year":2027,"month":1,"date":1}],
"grid":true,
"gridColor":{"condition":{"test":"month(datum.value)===0","value":"#eaeaea"},"value":"#f2f2f2"},
"gridWidth":{"condition":{"test":"month(datum.value)===0","value":1.5},"value":1}}}
},
"layer":[
{"encoding":{"y":{"field":"v","type":"quantitative","scale":{"domain":[-2300,77100],"nice":false,"zero":false},"axis":null}},
"layer":[
{"data":{"values":[{"date":"2026-12-05","to":"2027-04-11","v":0,"vTo":1400}]},"mark":{"type":"rect","fill":"#ffffff","stroke":"#dddddd","cornerRadius":5},"encoding":{"x2":{"field":"to"},"y2":{"field":"vTo"}}},
{"data":{"values":[{"date":"2026-12-05","v":200,"text":"346.170"}]},"mark":{"type":"text","align":"left","dx":8,"fontSize":15,"color":"#ee3333"},"encoding":{"text":{"field":"text"}}},
{"data":{"name":"candles"},"mark":{"type":"bar","width":1.8},"encoding":{"color":{"condition":{"test":"datum.c>datum.o","value":"#33e633"},"value":"#f00000"}}},
{"data":{"values":[{"date":"2019-07-09","to":"2027-04-11","v":-2300,"vTo":0}]},"mark":{"type":"rect","fill":"#f6f6f6"},"encoding":{"x2":{"field":"to"},"y2":{"field":"vTo"}}},
{"data":{"values":[{"date":"2019-07-09","to":"2027-04-11","v":0},{"date":"2019-07-09","to":"2027-04-11","v":4400}]},"mark":{"type":"rule","color":"#cccccc","strokeWidth":1.2},"encoding":{"x2":{"field":"to"}}},
{"data":{"values":[{"date":"2020-01-01","v":-1200,"text":"2020"},{"date":"2021-01-01","v":-1200,"text":"2021"},{"date":"2022-01-01","v":-1200,"text":"2022"},{"date":"2023-01-01","v":-1200,"text":"2023"},{"date":"2024-01-01","v":-1200,"text":"2024"},{"date":"2025-01-01","v":-1200,"text":"2025"},{"date":"2026-01-01","v":-1200,"text":"2026"},{"date":"2027-01-01","v":-1200,"text":"2027"}]},"mark":{"type":"text","fontSize":15,"fontWeight":"bold","color":"#333333"},"encoding":{"text":{"field":"text"}}},
{"data":{"values":[{"date":"2019-07-15","v":-1200,"text":"Jul"},{"date":"2020-07-01","v":-1200,"text":"Jul"},{"date":"2021-07-01","v":-1200,"text":"Jul"},{"date":"2022-07-01","v":-1200,"text":"Jul"},{"date":"2023-07-01","v":-1200,"text":"Jul"},{"date":"2024-07-01","v":-1200,"text":"Jul"},{"date":"2025-07-01","v":-1200,"text":"Jul"},{"date":"2026-07-01","v":-1200,"text":"Jul"}]},"mark":{"type":"text","fontSize":15,"color":"#666666"},"encoding":{"text":{"field":"text"}}}
]},
{"encoding":{"y":{"field":"price","type":"quantitative","scale":{"domain":[-4.59,276.27],"nice":false,"zero":false},
"axis":{"orient":"right","offset":-66,"title":null,"domain":false,"values":[40,60,80,100,120,140,160,180,200,220,240,260],"tickColor":"#cccccc","tickSize":5,"labelPadding":3,"labelFontSize":15,"labelColor":"#444444","grid":true,"gridColor":"#eeeeee","zindex":0}}},
"layer":[
{"data":{"name":"candles"},"mark":{"type":"rule","strokeWidth":1},"encoding":{"y":{"field":"h","type":"quantitative"},"y2":{"field":"l"},"color":{"condition":{"test":"datum.c>datum.o","value":"#33e633"},"value":"#f00000"}}},
{"data":{"name":"candles"},"mark":{"type":"rule","strokeWidth":2.2},"encoding":{"y":{"field":"o","type":"quantitative"},"y2":{"field":"c"},"color":{"condition":{"test":"datum.c>datum.o","value":"#33e633"},"value":"#f00000"}}},
{"data":{"name":"smaSlow"},"mark":{"type":"line","color":"#008000","strokeWidth":1.5,"strokeDash":[8,6],"interpolate":"monotone"},"encoding":{"y":{"field":"s200","type":"quantitative"}}},
{"data":{"name":"smaSlow"},"mark":{"type":"line","color":"#ffbb55","strokeWidth":1.5,"interpolate":"monotone"},"encoding":{"y":{"field":"s100","type":"quantitative"}}},
{"data":{"name":"smaFast"},"mark":{"type":"line","color":"#ff80c0","strokeWidth":1.5,"interpolate":"monotone"},"encoding":{"y":{"field":"s50","type":"quantitative"}}},
{"data":{"name":"smaFast"},"mark":{"type":"line","color":"#3333cc","strokeWidth":1.5,"interpolate":"monotone"},"encoding":{"y":{"field":"s20","type":"quantitative"}}},
{"data":{"name":"trend"},"mark":{"type":"rule","color":"#33bbee","strokeWidth":2},"encoding":{"x2":{"field":"to"},"y2":{"field":"priceTo"},"opacity":{"field":"part","type":"nominal","scale":{"domain":["chart","margin"],"range":[1,0.35]},"legend":null}}},
{"data":{"name":"levels"},"transform":[{"filter":"indexof(datum.kind,'major')<0"}],"mark":{"type":"rule","strokeWidth":1.5},"encoding":{"x":{"field":"to","type":"temporal"},"x2":{"field":"end"},
"color":{"field":"kind","type":"nominal","scale":{"domain":["level","resistance","major resistance","support","major support"],"range":["#000000","#ff3333","#ff0000","#008000","#008000"]},"legend":null},
"strokeDash":{"field":"kind","type":"nominal","scale":{"domain":["level","resistance","major resistance","support","major support"],"range":[[6,6],[1,0],[1,0],[1,0],[1,0]]},"legend":null}}},
{"data":{"name":"levels"},"transform":[{"filter":"indexof(datum.kind,'major')>=0"}],"mark":{"type":"rule","strokeWidth":3},"encoding":{"x":{"field":"to","type":"temporal"},"x2":{"field":"end"},
"color":{"field":"kind","type":"nominal","legend":null}}},
{"data":{"name":"levels"},"transform":[{"filter":"indexof(datum.kind,'major')<0"}],"mark":{"type":"rule","opacity":0.28,"strokeWidth":1.5},"encoding":{"x":{"field":"ext","type":"temporal"},"x2":{"field":"edge"},
"color":{"field":"kind","type":"nominal","legend":null},"strokeDash":{"field":"kind","type":"nominal","legend":null}}},
{"data":{"name":"levels"},"transform":[{"filter":"indexof(datum.kind,'major')>=0"}],"mark":{"type":"rule","opacity":0.28,"strokeWidth":3},"encoding":{"x":{"field":"ext","type":"temporal"},"x2":{"field":"edge"},
"color":{"field":"kind","type":"nominal","legend":null}}},
{"data":{"name":"levels"},"mark":{"type":"rect","height":29},"encoding":{"x2":{"field":"to"},
"fill":{"condition":[{"test":"datum.kind==='level'","value":"#ffffff"},{"test":"indexof(datum.kind,'support')>=0","value":"#008000"}],"value":"#ff0000"},
"stroke":{"condition":{"test":"datum.kind==='level'","value":"#000000"},"value":"transparent"},"strokeWidth":{"value":1.5}}},
{"data":{"name":"levels"},"mark":{"type":"text","fontSize":16},"encoding":{"x":{"field":"mid","type":"temporal"},"text":{"field":"label"},"color":{"condition":{"test":"datum.kind==='level'","value":"#000000"},"value":"#ffffff"}}},
{"data":{"name":"tags"},"mark":{"type":"rect","height":21,"cornerRadius":5},"encoding":{"x2":{"field":"to"},
"fill":{"condition":{"test":"datum.name==='Price'","value":"#fdc51c"},"value":"#f8f8f8"},
"stroke":{"condition":{"test":"datum.name==='Price'","value":"#eeb800"},"value":"#dddddd"}}},
{"data":{"name":"tags"},"mark":{"type":"text","align":"left","dx":8,"fontSize":15},"encoding":{"text":{"field":"label"},
"color":{"condition":[{"test":"datum.name==='Price'","value":"#000000"},{"test":"datum.name==='SMA (200)'","value":"#008000"},{"test":"datum.name==='SMA (100)'","value":"#ffbb55"}],"value":"#ff80c0"}}},
{"data":{"name":"chipsTop"},"mark":{"type":"rect","height":38,"fill":"#f8f8f8","cornerRadius":4},"encoding":{"x2":{"field":"to"}}},
{"data":{"name":"chips"},"mark":{"type":"rect","height":26,"fill":"#f8f8f8","cornerRadius":4},"encoding":{"x2":{"field":"to"}}},
{"data":{"name":"swatches"},"mark":{"type":"point","filled":true,"opacity":1,"size":169,"shape":"M-1,-0.7Q-1,-1 -0.7,-1H0.7Q1,-1 1,-0.7V0.7Q1,1 0.7,1H-0.7Q-1,1 -1,0.7Z"},"encoding":{"fill":{"field":"series","type":"nominal","scale":{"domain":["SMA (20)","SMA (50)","SMA (100)","SMA (200)"],"range":["#3333cc","#ff80c0","#ffbb55","#008000"]},"legend":null}}},
{"data":{"values":[{"date":"2019-07-20","price":254.7},{"date":"2019-07-20","price":12.7}]},"mark":{"type":"point","filled":true,"opacity":1,"color":"#33e633","size":169,"shape":"M-0.5,-1H0.5V1H-0.5Z"}},
{"data":{"values":[{"date":"2019-08-01","price":254.7},{"date":"2019-08-01","price":12.7}]},"mark":{"type":"point","filled":true,"opacity":1,"color":"#f00000","size":169,"shape":"M-0.5,-1H0.5V1H-0.5Z"}},
{"data":{"name":"texts"},"mark":{"type":"text","align":"left","fontSize":15,"color":"#555555"},"encoding":{"text":{"field":"text"}}},
{"data":{"values":[{"date":"2019-08-05","price":267.2,"text":"1 D"}]},"mark":{"type":"text","align":"left","fontSize":19,"color":"#555555"},"encoding":{"text":{"field":"text"}}},
{"data":{"values":[{"date":"2021-04-25","price":267.4,"text":"147.080 (-1.81%)"}]},"mark":{"type":"text","align":"left","fontSize":19.5,"fontWeight":"bold","color":"#a00000"},"encoding":{"text":{"field":"text"}}},
{"data":{"values":[{"date":"2019-11-08","price":267.4}]},"mark":{"type":"point","filled":false,"opacity":1,"color":"#555555","strokeWidth":1.8,"size":100,"shape":"M-1,-0.5L0,0.5L1,-0.5"}},
{"data":{"values":[{"date":"2020-02-07","price":267.4}]},"mark":{"type":"point","filled":false,"opacity":1,"color":"#555555","strokeWidth":1.2,"size":484,"shape":"M-0.9,-0.2C-0.6,-1 -0.3,-1 0,-0.3S0.5,0.1 0.9,-0.6M-0.9,-0.6C-0.5,-0.5 0,0.2 0.9,0.1M-0.8,0.9V0.6M-0.4,0.9V0.4M0,0.9V0.5M0.4,0.9V0.4M0.8,0.9V0.5M-1,1H1"}},
{"data":{"values":[{"date":"2020-04-27","price":267.4}]},"mark":{"type":"point","filled":false,"opacity":1,"color":"#555555","strokeWidth":1.5,"size":225,"shape":"M-1,-0.8Q-1,-1 -0.8,-1H0.8Q1,-1 1,-0.8V0.8Q1,1 0.8,1H-0.8Q-1,1 -1,0.8Z"}},
{"data":{"values":[{"date":"2020-04-27","price":267.4,"text":"i"}]},"mark":{"type":"text","fontSize":14,"fontWeight":"bold","color":"#555555"},"encoding":{"text":{"field":"text"}}},
{"data":{"values":[{"date":"2019-07-24","price":26.9}]},"mark":{"type":"point","filled":false,"opacity":1,"color":"#333333","strokeWidth":1.2,"size":400,"shape":"M-0.9,-0.2V1M-0.1,-0.5V0.6M-0.3,-0.2H0.1V0.3H-0.3ZM0.7,-1V0.2M0.5,-0.8H0.9V0H0.5Z"}}
]}
],
"resolve":{"scale":{"y":"independent"},"axis":{"y":"independent"}}
}
